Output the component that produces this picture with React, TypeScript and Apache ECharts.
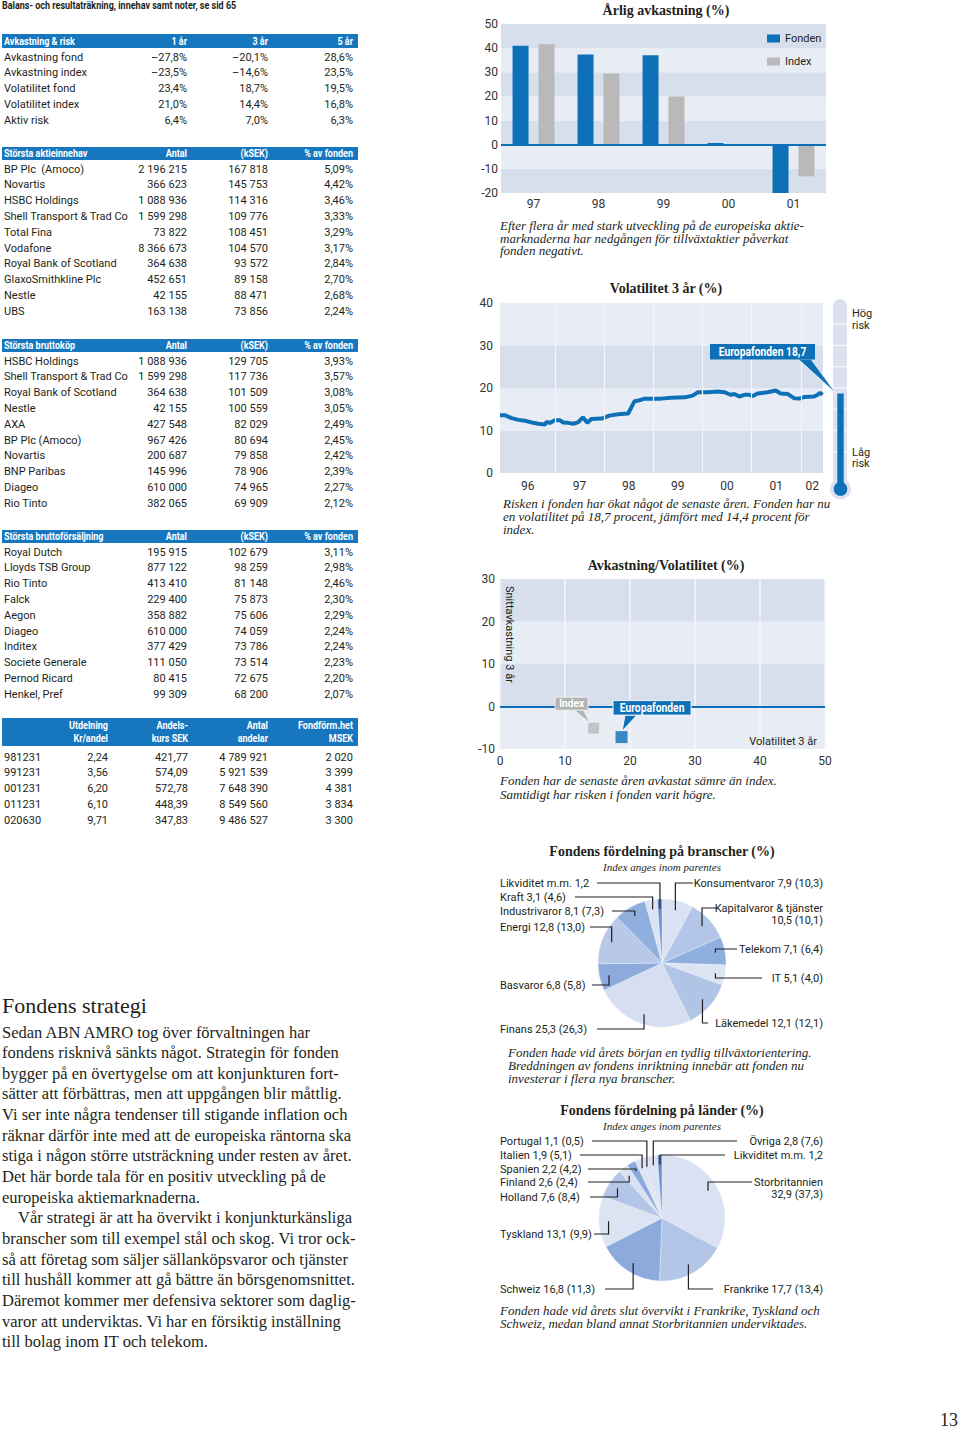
import React, { useEffect, useRef } from 'react';
import * as echarts from 'echarts';

const BLUE = '#0e71b8';
const HEAD_BLUE = '#1677bf';
const GREY = '#b9b9b9';
const BAND_DARK = '#d7deec';
const BAND_LIGHT = '#e8ecf5';
const TXT = '#231f20';
const SANS = 'Roboto, "Liberation Sans", sans-serif';
const SERIF = '"Liberation Serif", "DejaVu Serif", serif';

// ---------- data ----------
const pageTitle = 'Balans- och resultaträkning, innehav samt noter, se sid 65';

const riskHeader = ['Avkastning & risk', '1 år', '3 år', '5 år'];
const riskRows = [
  ['Avkastning fond', '–27,8%', '–20,1%', '28,6%'],
  ['Avkastning index', '–23,5%', '–14,6%', '23,5%'],
  ['Volatilitet fond', '23,4%', '18,7%', '19,5%'],
  ['Volatilitet index', '21,0%', '14,4%', '16,8%'],
  ['Aktiv risk', '6,4%', '7,0%', '6,3%'],
];

const holdingsHeader = ['Största aktieinnehav', 'Antal', '(kSEK)', '% av fonden'];
const holdingsRows = [
  ['BP Plc  (Amoco)', '2 196 215', '167 818', '5,09%'],
  ['Novartis', '366 623', '145 753', '4,42%'],
  ['HSBC Holdings', '1 088 936', '114 316', '3,46%'],
  ['Shell Transport & Trad Co', '1 599 298', '109 776', '3,33%'],
  ['Total Fina', '73 822', '108 451', '3,29%'],
  ['Vodafone', '8 366 673', '104 570', '3,17%'],
  ['Royal Bank of Scotland', '364 638', '93 572', '2,84%'],
  ['GlaxoSmithkline Plc', '452 651', '89 158', '2,70%'],
  ['Nestle', '42 155', '88 471', '2,68%'],
  ['UBS', '163 138', '73 856', '2,24%'],
];

const buysHeader = ['Största bruttoköp', 'Antal', '(kSEK)', '% av fonden'];
const buysRows = [
  ['HSBC Holdings', '1 088 936', '129 705', '3,93%'],
  ['Shell Transport & Trad Co', '1 599 298', '117 736', '3,57%'],
  ['Royal Bank of Scotland', '364 638', '101 509', '3,08%'],
  ['Nestle', '42 155', '100 559', '3,05%'],
  ['AXA', '427 548', '82 029', '2,49%'],
  ['BP Plc (Amoco)', '967 426', '80 694', '2,45%'],
  ['Novartis', '200 687', '79 858', '2,42%'],
  ['BNP Paribas', '145 996', '78 906', '2,39%'],
  ['Diageo', '610 000', '74 965', '2,27%'],
  ['Rio Tinto', '382 065', '69 909', '2,12%'],
];

const salesHeader = ['Största bruttoförsäljning', 'Antal', '(kSEK)', '% av fonden'];
const salesRows = [
  ['Royal Dutch', '195 915', '102 679', '3,11%'],
  ['Lloyds TSB Group', '877 122', '98 259', '2,98%'],
  ['Rio Tinto', '413 410', '81 148', '2,46%'],
  ['Falck', '229 400', '75 873', '2,30%'],
  ['Aegon', '358 882', '75 606', '2,29%'],
  ['Diageo', '610 000', '74 059', '2,24%'],
  ['Inditex', '377 429', '73 786', '2,24%'],
  ['Societe Generale', '111 050', '73 514', '2,23%'],
  ['Pernod Ricard', '80 415', '72 675', '2,20%'],
  ['Henkel, Pref', '99 309', '68 200', '2,07%'],
];

const navHeader = [
  ['Utdelning', 'Kr/andel'],
  ['Andels-', 'kurs SEK'],
  ['Antal', 'andelar'],
  ['Fondförm.het', 'MSEK'],
];
const navRows = [
  ['981231', '2,24', '421,77', '4 789 921', '2 020'],
  ['991231', '3,56', '574,09', '5 921 539', '3 399'],
  ['001231', '6,20', '572,78', '7 648 390', '4 381'],
  ['011231', '6,10', '448,39', '8 549 560', '3 834'],
  ['020630', '9,71', '347,83', '9 486 527', '3 300'],
];

const returnYears = ['97', '98', '99', '00', '01'];
const fondReturns = [41.0, 37.4, 37.1, 0.7, -20.8];
const indexReturns = [41.6, 29.5, 20.0, -0.4, -13.1];

const volSeries: [number, number][] = [
  [1995.885, 13.6], [1995.99, 13.6], [1996.12, 12.9], [1996.26, 12.5], [1996.39, 12.3],
  [1996.53, 11.9], [1996.66, 11.6], [1996.8, 11.4], [1996.83, 12.0], [1996.9, 11.8],
  [1997.0, 12.4], [1997.1, 12.4], [1997.17, 11.9], [1997.27, 11.8], [1997.37, 11.6],
  [1997.47, 11.9], [1997.57, 13.1], [1997.66, 11.8], [1997.74, 12.7], [1997.95, 12.8],
  [1998.11, 13.5], [1998.28, 13.8], [1998.49, 14.0], [1998.62, 16.9], [1998.72, 17.1],
  [1998.82, 17.5], [1999.16, 17.5], [1999.36, 17.7], [1999.64, 17.8], [1999.8, 18.2],
  [1999.91, 19.0], [2000.11, 19.0], [2000.31, 19.2], [2000.45, 19.0], [2000.58, 18.4],
  [2000.65, 18.6], [2000.75, 18.0], [2000.85, 18.4], [2000.95, 18.4], [2001.02, 18.1],
  [2001.12, 18.7], [2001.32, 19.0], [2001.49, 19.4], [2001.59, 18.7], [2001.73, 18.6],
  [2001.86, 17.6], [2001.97, 17.5], [2002.07, 17.9], [2002.27, 18.0], [2002.34, 18.4],
  [2002.39, 18.9], [2002.44, 18.4],
];
const volYearLabels = ['96', '97', '98', '99', '00', '01', '02'];
const volLabelPos = [1996.45, 1997.5, 1998.5, 1999.5, 2000.5, 2001.5, 2002.23];
const volYearStarts = [1997, 1998, 1999, 2000, 2001, 2002];
const currentVol = 18.7;
const riskLevels = [5, 10, 15, 20, 25, 30, 35];

const rrFond: [number, number] = [18.7, -7.2];
const rrIndex: [number, number] = [14.4, -5.1];

const sectorNames = ['Konsumentvaror', 'Kapitalvaror & tjänster', 'Telekom', 'IT', 'Läkemedel', 'Finans', 'Basvaror', 'Energi', 'Industrivaror', 'Kraft', 'Likviditet m.m.'];
const sectorFond = [7.9, 10.5, 7.1, 5.1, 12.1, 25.3, 6.8, 12.8, 8.1, 3.1, 1.2];
const sectorIndex: (number | null)[] = [10.3, 10.1, 6.4, 4.0, 12.1, 26.3, 5.8, 13.0, 7.3, 4.6, null];
const sectorColors = ['#d9e1f2', '#b3c6e7', '#8eafe0', '#dde5f3', '#b0c4e6', '#d6def1', '#8cabdc', '#b7c8e8', '#8fafdf', '#dce3f3', '#6990d0'];

const countryNames = ['Storbritannien', 'Frankrike', 'Schweiz', 'Tyskland', 'Holland', 'Finland', 'Spanien', 'Italien', 'Portugal', 'Övriga', 'Likviditet m.m.'];
const countryFond = [32.9, 17.7, 16.8, 13.1, 7.6, 2.6, 2.2, 1.9, 1.1, 2.8, 1.2];
const countryIndex: (number | null)[] = [37.3, 13.4, 11.3, 9.9, 8.4, 2.4, 4.2, 5.1, 0.5, 7.6, null];
const countryColors = ['#d9e1f2', '#b3c6e7', '#8cabdc', '#dce3f3', '#b3c6e7', '#d9e1f2', '#8cabdc', '#dde5f3', '#d9e1f2', '#dce3f3', '#6990d0'];

const strategyTitle = 'Fondens strategi';
const strategyLines = [
  'Sedan ABN AMRO tog över förvaltningen har',
  'fondens risknivå sänkts något. Strategin för fonden',
  'bygger på en övertygelse om att konjunkturen fort-',
  'sätter att förbättras, men att uppgången blir måttlig.',
  'Vi ser inte några tendenser till stigande inflation och',
  'räknar därför inte med att de europeiska räntorna ska',
  'stiga i någon större utsträckning under resten av året.',
  'Det här borde tala för en positiv utveckling på de',
  'europeiska aktiemarknaderna.',
  'Vår strategi är att ha övervikt i konjunkturkänsliga',
  'branscher som till exempel stål och skog. Vi tror ock-',
  'så att företag som säljer sällanköpsvaror och tjänster',
  'till hushåll kommer att gå bättre än börsgenomsnittet.',
  'Däremot kommer mer defensiva sektorer som daglig-',
  'varor att underviktas. Vi har en försiktig inställning',
  'till bolag inom IT och telekom.',
];

// ---------- layout (positions only) ----------
const sectorLabelLayout = [
  { x: 823, y: 883, align: 'right', start: 693 },
  { x: 823, y: 908, align: 'right', start: 717, wrap: true },
  { x: 823, y: 949, align: 'right', start: 737 },
  { x: 823, y: 978, align: 'right', start: 762 },
  { x: 823, y: 1023, align: 'right', start: 708 },
  { x: 500, y: 1029, align: 'left', start: 597 },
  { x: 500, y: 985, align: 'left', start: 592 },
  { x: 500, y: 927, align: 'left', start: 590 },
  { x: 500, y: 911, align: 'left', start: 612 },
  { x: 500, y: 897, align: 'left', start: 575 },
  { x: 500, y: 883, align: 'left', start: 597 },
];
const countryLabelLayout = [
  { x: 823, y: 1182, align: 'right', start: 752, wrap: true },
  { x: 823, y: 1289, align: 'right', start: 713 },
  { x: 500, y: 1289, align: 'left', start: 605 },
  { x: 500, y: 1234, align: 'left', start: 594 },
  { x: 500, y: 1197, align: 'left', start: 590 },
  { x: 500, y: 1182, align: 'left', start: 588 },
  { x: 500, y: 1169, align: 'left', start: 588 },
  { x: 500, y: 1155, align: 'left', start: 580 },
  { x: 500, y: 1141, align: 'left', start: 592 },
  { x: 823, y: 1141, align: 'right', start: 737 },
  { x: 823, y: 1155, align: 'right', start: 725 },
];
const PIE1 = { cx: 662, cy: 963, r: 64 };
const PIE2 = { cx: 662, cy: 1218, r: 63 };

// ---------- helpers ----------
function T(x: number, y: number, text: string, o: any = {}) {
  const align = o.align || 'left';
  return {
    type: 'text', x, y, z: 10, silent: true,
    scaleX: o.scaleX || 1,
    rotation: o.rotation || 0,
    style: {
      text,
      fill: o.color || TXT,
      fontSize: o.size || 11,
      fontFamily: o.family || SANS,
      fontWeight: o.weight || 'normal',
      fontStyle: o.italic ? 'italic' : 'normal',
      align, verticalAlign: 'middle',
      textAlign: align, textVerticalAlign: 'middle',
    },
  };
}
function R(x: number, y: number, w: number, h: number, fill: string, extra: any = {}) {
  return { type: 'rect', z: extra.z || 10, silent: true, shape: { x, y, width: w, height: h, r: extra.r || 0 }, style: { fill, stroke: extra.stroke, lineWidth: extra.lw || 0 } };
}
function PL(points: number[][], stroke = TXT, lw = 1.2) {
  return { type: 'polyline', z: 11, silent: true, shape: { points }, style: { stroke, lineWidth: lw, fill: null } };
}
function PG(points: number[][], fill: string, stroke?: string) {
  return { type: 'polygon', z: 11, silent: true, shape: { points }, style: { fill, stroke: stroke || null, lineWidth: stroke ? 1 : 0 } };
}
function C(cx: number, cy: number, r: number, fill: string, z = 10) {
  return { type: 'circle', z, silent: true, shape: { cx, cy, r }, style: { fill } };
}
function L(x1: number, y1: number, x2: number, y2: number, stroke: string, lw = 1) {
  return { type: 'line', z: 11, silent: true, shape: { x1, y1, x2, y2 }, style: { stroke, lineWidth: lw } };
}
const fmt = (v: number) => v.toFixed(1).replace('.', ',');

function tableEls(header: string[], rows: string[][], bandTop: number, bandH: number, firstRow: number, step: number) {
  const cols = [187, 268, 353];
  const els: any[] = [R(2, bandTop, 356, bandH, HEAD_BLUE)];
  const hy = bandTop + bandH / 2;
  els.push(T(4, hy, header[0], { color: '#fff', weight: 'bold', scaleX: 0.82 }));
  header.slice(1).forEach((h, i) => els.push(T(cols[i], hy, h, { color: '#fff', weight: 'bold', align: 'right', scaleX: 0.82 })));
  rows.forEach((r, ri) => {
    const y = firstRow + ri * step;
    els.push(T(4, y, r[0]));
    r.slice(1).forEach((c, ci) => els.push(T(cols[ci], y, c, { align: 'right' })));
  });
  return els;
}

function pieLabelEls(names: string[], fond: number[], idx: (number | null)[], layout: any[], pie: any) {
  const els: any[] = [];
  const total = fond.reduce((a, b) => a + b, 0);
  let cum = 0;
  fond.forEach((v, i) => {
    const mid = ((cum + v / 2) / total) * Math.PI * 2;
    cum += v;
    const ax = pie.cx + pie.r * 0.85 * Math.sin(mid);
    const ay = pie.cy - pie.r * 0.85 * Math.cos(mid);
    const lay = layout[i];
    const nums = idx[i] == null ? fmt(v) : `${fmt(v)} (${fmt(idx[i] as number)})`;
    if (lay.wrap) {
      els.push(T(lay.x, lay.y, names[i], { align: lay.align }));
      els.push(T(lay.x, lay.y + 12.5, nums, { align: lay.align }));
    } else {
      els.push(T(lay.x, lay.y, `${names[i]} ${nums}`, { align: lay.align }));
    }
    els.push(PL([[lay.start, lay.y], [ax, lay.y], [ax, ay]]));
  });
  return els;
}

function buildOption() {
  const axisLbl = { color: '#333', fontSize: 12, fontFamily: SANS };
  return {
    animation: false,
    backgroundColor: '#fff',
    legend: {
      data: ['Fonden', 'Index'], orient: 'vertical', left: 762, top: 28,
      itemWidth: 13, itemHeight: 8, itemGap: 12, icon: 'rect', selectedMode: false,
      textStyle: { fontSize: 11, color: TXT, fontFamily: SANS },
    },
    grid: [
      { left: 501, top: 24, width: 325, height: 169 },
      { left: 500, top: 303, width: 323, height: 170 },
      { left: 500, top: 579, width: 325, height: 170 },
    ],
    xAxis: [
      { gridIndex: 0, type: 'category', data: returnYears, axisLine: { show: false }, axisTick: { show: false }, axisLabel: { ...axisLbl, margin: 5 } },
      {
        gridIndex: 1, type: 'value', min: 1995.885, max: 2002.45,
        axisLine: { show: false }, axisTick: { show: false }, splitLine: { show: false },
        axisLabel: {
          ...axisLbl, margin: 7, customValues: volLabelPos,
          formatter: (v: number) => {
            let best = 0;
            volLabelPos.forEach((p, i) => { if (Math.abs(p - v) < Math.abs(volLabelPos[best] - v)) best = i; });
            return volYearLabels[best];
          },
        },
      },
      {
        gridIndex: 2, type: 'value', min: 0, max: 50, interval: 10,
        axisLine: { show: false }, axisTick: { show: false },
        splitLine: { show: true, lineStyle: { color: '#f4f6fa', width: 1.5 } },
        axisLabel: { ...axisLbl, margin: 6 },
      },
    ],
    yAxis: [
      { gridIndex: 0, type: 'value', min: -20, max: 50, interval: 10, axisLine: { show: false }, axisTick: { show: false }, splitLine: { show: false }, splitArea: { show: true, areaStyle: { color: [BAND_DARK, BAND_LIGHT] } }, axisLabel: { ...axisLbl, margin: 3 } },
      { gridIndex: 1, type: 'value', min: 0, max: 40, interval: 10, axisLine: { show: false }, axisTick: { show: false }, splitLine: { show: false }, splitArea: { show: true, areaStyle: { color: [BAND_DARK, BAND_LIGHT] } }, axisLabel: { ...axisLbl, margin: 7 } },
      { gridIndex: 2, type: 'value', min: -10, max: 30, interval: 10, axisLine: { show: false }, axisTick: { show: false }, splitLine: { show: false }, splitArea: { show: true, areaStyle: { color: [BAND_LIGHT, BAND_DARK] } }, axisLabel: { ...axisLbl, margin: 5 } },
    ],
    series: [
      {
        name: 'Fonden', type: 'bar', xAxisIndex: 0, yAxisIndex: 0, data: fondReturns,
        barWidth: 16, barGap: '62%', itemStyle: { color: BLUE }, silent: true,
        markLine: { silent: true, symbol: ['none', 'none'], label: { show: false }, lineStyle: { color: BLUE, width: 2, type: 'solid' }, data: [{ yAxis: 0 }] },
      },
      { name: 'Index', type: 'bar', xAxisIndex: 0, yAxisIndex: 0, data: indexReturns, barWidth: 16, itemStyle: { color: GREY }, silent: true },
      {
        name: 'yearlines', type: 'line', xAxisIndex: 1, yAxisIndex: 1, data: volSeries, symbol: 'none', z: 1,
        lineStyle: { opacity: 0 }, silent: true,
        markLine: { silent: true, symbol: ['none', 'none'], label: { show: false }, lineStyle: { color: '#f4f6fa', width: 1.2, type: 'solid' }, data: volYearStarts.map((v) => ({ xAxis: v })) },
      },
      { name: 'Volatilitet', type: 'line', xAxisIndex: 1, yAxisIndex: 1, data: volSeries, symbol: 'none', z: 3, lineStyle: { color: BLUE, width: 4 }, itemStyle: { color: BLUE }, silent: true },
      {
        name: 'Index 3 år', type: 'scatter', xAxisIndex: 2, yAxisIndex: 2, data: [rrIndex], symbol: 'rect', symbolSize: 11, itemStyle: { color: GREY }, silent: true, z: 4,
        markLine: { silent: true, symbol: ['none', 'none'], label: { show: false }, lineStyle: { color: BLUE, width: 2, type: 'solid' }, data: [{ yAxis: 0 }] },
      },
      { name: 'Europafonden 3 år', type: 'scatter', xAxisIndex: 2, yAxisIndex: 2, data: [rrFond], symbol: 'rect', symbolSize: 12, itemStyle: { color: BLUE }, silent: true, z: 4 },
      {
        name: 'Branscher', type: 'pie', center: [PIE1.cx, PIE1.cy], radius: PIE1.r, startAngle: 90, clockwise: true, silent: true,
        label: { show: false }, labelLine: { show: false }, itemStyle: { borderWidth: 0.4, borderColor: '#eef2f9' },
        data: sectorNames.map((n, i) => ({ name: n, value: sectorFond[i], itemStyle: { color: sectorColors[i] } })),
      },
      {
        name: 'Länder', type: 'pie', center: [PIE2.cx, PIE2.cy], radius: PIE2.r, startAngle: 90, clockwise: true, silent: true,
        label: { show: false }, labelLine: { show: false }, itemStyle: { borderWidth: 0.4, borderColor: '#eef2f9' },
        data: countryNames.map((n, i) => ({ name: n, value: countryFond[i], itemStyle: { color: countryColors[i] } })),
      },
    ],
  };
}

function buildGraphics(chart: any) {
  const els: any[] = [];
  // page title
  els.push(T(2, 5, pageTitle, { weight: 'bold', scaleX: 0.82 }));
  // tables
  els.push(...tableEls(riskHeader, riskRows, 34, 14, 57, 15.75));
  els.push(...tableEls(holdingsHeader, holdingsRows, 147, 13, 169, 15.8));
  els.push(...tableEls(buysHeader, buysRows, 339, 13, 361, 15.8));
  els.push(...tableEls(salesHeader, salesRows, 530, 13, 552, 15.8));
  // nav table
  const navCols = [108, 188, 268, 353];
  els.push(R(2, 718, 356, 28, HEAD_BLUE));
  navHeader.forEach((h, i) => {
    els.push(T(navCols[i], 725.5, h[0], { color: '#fff', weight: 'bold', align: 'right', scaleX: 0.82 }));
    els.push(T(navCols[i], 738.5, h[1], { color: '#fff', weight: 'bold', align: 'right', scaleX: 0.82 }));
  });
  navRows.forEach((r, ri) => {
    const y = 757 + ri * 15.9;
    els.push(T(4, y, r[0]));
    r.slice(1).forEach((c, ci) => els.push(T(navCols[ci], y, c, { align: 'right' })));
  });

  // strategy text
  els.push(T(2, 1005, strategyTitle, { family: SERIF, size: 22 }));
  strategyLines.forEach((l, i) => els.push(T(i === 9 ? 18 : 2, 1032 + i * 20.65, l, { family: SERIF, size: 16.5 })));
  els.push(T(958, 1420, '13', { family: SERIF, size: 18, align: 'right' }));

  // chart titles & captions
  const title = (x: number, y: number, t: string) => T(x, y, t, { family: SERIF, size: 14, weight: 'bold', align: 'center' });
  const cap = (x: number, y: number, t: string) => T(x, y, t, { family: SERIF, size: 13, italic: true });
  els.push(title(666, 10, 'Årlig avkastning (%)'));
  els.push(cap(500, 225, 'Efter flera år med stark utveckling på de europeiska aktie-'));
  els.push(cap(500, 238, 'marknaderna har nedgången för tillväxtaktier påverkat'));
  els.push(cap(500, 250.5, 'fonden negativt.'));

  els.push(title(666, 288, 'Volatilitet 3 år (%)'));
  els.push(cap(503, 503, 'Risken i fonden har ökat något de senaste åren. Fonden har nu'));
  els.push(cap(503, 516, 'en volatilitet på 18,7 procent, jämfört med 14,4 procent för'));
  els.push(cap(503, 529, 'index.'));

  els.push(title(666, 565, 'Avkastning/Volatilitet (%)'));
  els.push(cap(500, 780, 'Fonden har de senaste åren avkastat sämre än index.'));
  els.push(cap(500, 794, 'Samtidigt har risken i fonden varit högre.'));

  els.push(title(662, 851, 'Fondens fördelning på branscher (%)'));
  els.push(T(662, 867, 'Index anges inom parentes', { family: SERIF, size: 11, italic: true, align: 'center' }));
  els.push(cap(508, 1052, 'Fonden hade vid årets början en tydlig tillväxtorientering.'));
  els.push(cap(508, 1065, 'Breddningen av fondens inriktning innebär att fonden nu'));
  els.push(cap(508, 1078, 'investerar i flera nya branscher.'));

  els.push(title(662, 1110, 'Fondens fördelning på länder (%)'));
  els.push(T(662, 1126, 'Index anges inom parentes', { family: SERIF, size: 11, italic: true, align: 'center' }));
  els.push(cap(500, 1310, 'Fonden hade vid årets slut övervikt i Frankrike, Tyskland och'));
  els.push(cap(500, 1323, 'Schweiz, medan bland annat Storbritannien underviktades.'));

  // thermometer
  const tubeX = 833, tubeW = 14, tcx = 840.5;
  const yTop = chart.convertToPixel({ gridIndex: 1 }, [2000, 40])[1];
  const yBot = chart.convertToPixel({ gridIndex: 1 }, [2000, 0])[1];
  const yLevel = chart.convertToPixel({ gridIndex: 1 }, [2000, currentVol])[1];
  els.push(R(tubeX, yTop - 4, tubeW, yBot + 12 - (yTop - 4), '#dbe1ee', { r: [7, 7, 0, 0] }));
  els.push(C(tcx, yBot + 16, 10.5, '#dbe1ee'));
  riskLevels.forEach((lv) => {
    const yy = chart.convertToPixel({ gridIndex: 1 }, [2000, lv])[1];
    els.push(L(tubeX, yy, tubeX + tubeW, yy, '#f5f7fb', 1.5));
  });
  els.push(R(tcx - 3.2, yLevel, 6.4, yBot + 16 - yLevel, BLUE, { z: 13 }));
  els.push(C(tcx, yBot + 16, 6.8, BLUE, 13));
  els.push(T(852, 313, 'Hög'));
  els.push(T(852, 325, 'risk'));
  els.push(T(852, 452, 'Låg'));
  els.push(T(852, 463, 'risk'));
  // vol callout
  els.push(PG([[798, 359], [811, 359], [836, yLevel]], BLUE, '#eef2f8'));
  els.push(R(710, 344, 105, 15.5, BLUE, { z: 12 }));
  els.push({ ...T(762.5, 351.8, `Europafonden ${fmt(currentVol)}`, { color: '#fff', weight: 'bold', size: 12, align: 'center', scaleX: 0.86 }), z: 13 });

  // scatter callouts
  const pi = chart.convertToPixel({ gridIndex: 2 }, rrIndex);
  const pf = chart.convertToPixel({ gridIndex: 2 }, rrFond);
  els.push(PG([[pi[0] - 20.5, pi[1] - 19], [pi[0] - 10.5, pi[1] - 19], [pi[0] - 3.5, pi[1] - 5]], '#b3b3b3', '#f0f0f0'));
  els.push(R(pi[0] - 38.5, pi[1] - 31, 33, 13, '#b3b3b3', { stroke: '#f0f0f0', lw: 1, z: 12 }));
  els.push({ ...T(pi[0] - 22, pi[1] - 24.5, 'Index', { color: '#fff', weight: 'bold', size: 11.5, align: 'center', scaleX: 0.88 }), z: 13 });
  els.push(PG([[pf[0] + 3.5, pf[1] - 22], [pf[0] + 15.5, pf[1] - 22], [pf[0] + 0.5, pf[1] - 6]], BLUE, '#eef2f8'));
  els.push(R(pf[0] - 8.5, pf[1] - 36.5, 78, 14.5, BLUE, { stroke: '#eef2f8', lw: 1, z: 12 }));
  els.push({ ...T(pf[0] + 30.5, pf[1] - 29.2, 'Europafonden', { color: '#fff', weight: 'bold', size: 12, align: 'center', scaleX: 0.86 }), z: 13 });
  els.push(T(509, 586, 'Snittavkastning 3 år', { rotation: -Math.PI / 2 }));
  els.push(T(817, 741, 'Volatilitet 3 år', { align: 'right' }));

  // pies
  els.push(...pieLabelEls(sectorNames, sectorFond, sectorIndex, sectorLabelLayout, PIE1));
  els.push(...pieLabelEls(countryNames, countryFond, countryIndex, countryLabelLayout, PIE2));
  return els;
}

export default function App() {
  const ref = useRef<HTMLDivElement>(null);
  useEffect(() => {
    const chart = echarts.init(ref.current as HTMLDivElement, null, { renderer: 'svg' });
    chart.setOption(buildOption() as any);
    chart.setOption({ graphic: { elements: buildGraphics(chart) } } as any);
    return () => chart.dispose();
  }, []);
  return <div ref={ref} style={{ position: 'absolute', left: 0, top: 0, width: 960, height: 1429, background: '#fff' }} />;
}
